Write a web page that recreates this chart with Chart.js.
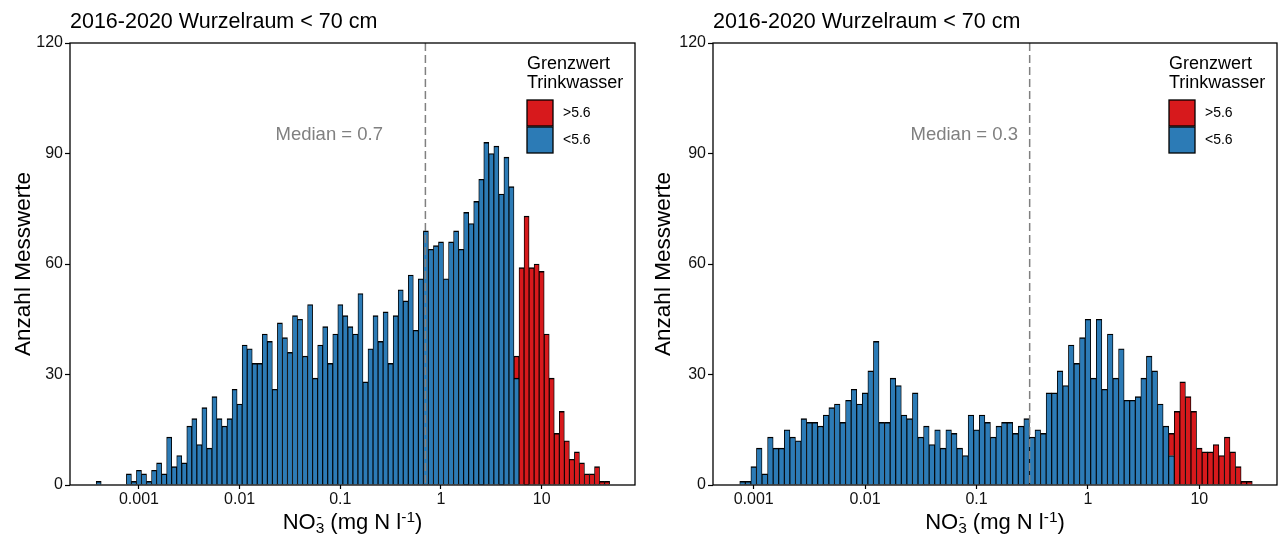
<!DOCTYPE html>
<html>
<head>
<meta charset="utf-8">
<script src="https://cdn.jsdelivr.net/npm/chart.js@4/dist/chart.umd.min.js"></script>
<style>
body { margin: 0; background: #fff; }
#left { position: absolute; left: 0; top: 0; width: 640px; height: 542px; }
#right { position: absolute; left: 640px; top: 0; width: 639px; height: 542px; }
</style>
</head>
<body>
<div id="left"><canvas id="leftChart"></canvas></div>
<div id="right"><canvas id="rightChart"></canvas></div>
<script>
// bins are 0.05 wide in log10(mg N/l), values are bin centres
let binWidth = 0.05
let xTicks = [-3, -2, -1, 0, 1]
let xTickLabels = ['0.001', '0.01', '0.1', '1', '10']
let legendTitle = ['Grenzwert', 'Trinkwasser']
let titleText = '2016-2020 Wurzelraum < 70 cm'
let medianLabelAt = [-1.11, 95]

let leftBlueStart = -3.40
let leftBlue = [1, 0, 0, 0, 0, 0, 3, 1, 4, 3, 1, 4, 6, 3, 13, 5, 8, 6, 16, 18, 11, 21, 10, 24,
	18, 16, 18, 26, 22, 38, 37, 33, 33, 41, 39, 26, 44, 40, 36, 46, 45, 35, 49, 29, 38, 43, 33, 41,
	49, 46, 43, 41, 52, 28, 37, 46, 39, 47, 33, 46, 53, 50, 57, 42, 56, 69, 64, 65, 66, 56, 66, 69,
	64, 74, 71, 77, 83, 93, 90, 92, 79, 89, 81, 29]
let leftRedStart = 0.75
let leftRed = [6, 59, 73, 59, 60, 58, 41, 29, 14, 20, 12, 7, 9, 6, 3, 3, 5, 1, 1]
let leftMedian = 0.7

let rightBlueStart = -3.10
let rightBlue = [1, 1, 5, 10, 3, 13, 10, 10, 15, 13, 12, 18, 17, 17, 16, 19, 21, 22, 17, 23, 26, 22,
	25, 31, 39, 17, 17, 29, 27, 19, 18, 25, 13, 16, 11, 15, 10, 15, 14, 10, 8, 19, 15, 19, 17, 13, 16,
	17, 17, 14, 16, 18, 13, 15, 14, 25, 25, 31, 27, 38, 33, 40, 45, 29, 45, 26, 41, 29, 37, 23, 23,
	24, 29, 35, 31, 22, 16, 8]
let rightRedStart = 0.75
let rightRed = [6, 20, 28, 24, 20, 10, 9, 9, 11, 8, 13, 9, 5, 1, 1]
let rightMedian = 0.3

let family = "'Liberation Sans', Arial, sans-serif"
Chart.defaults.font.family = family
Chart.defaults.color = '#000'

let blueColor = '#2C7BB6'
let redColor = '#D7191C'
let grey = '#808080'

function bins(start, counts) {
	return counts.map((c, i) => ({x: Math.round((start + i * binWidth) * 100) / 100, y: c}))
}

let decor = {
	id: 'decor',
	afterDatasetsDraw(chart, args, opts) {
		let ctx = chart.ctx
		let a = chart.chartArea
		let xs = chart.scales.x
		let ys = chart.scales.y
		ctx.save()

		// median line
		let mx = xs.getPixelForValue(Math.log10(opts.median))
		ctx.strokeStyle = grey
		ctx.lineWidth = 1.5
		ctx.setLineDash([8, 4])
		ctx.beginPath()
		ctx.moveTo(mx, a.top)
		ctx.lineTo(mx, a.bottom)
		ctx.stroke()
		ctx.setLineDash([])

		// panel border
		ctx.strokeStyle = '#000'
		ctx.lineWidth = 1.3
		ctx.strokeRect(a.left, a.top, a.right - a.left, a.bottom - a.top)

		ctx.fillStyle = grey
		ctx.font = '18.5px ' + family
		ctx.textAlign = 'center'
		ctx.textBaseline = 'middle'
		ctx.fillText('Median = ' + opts.median, xs.getPixelForValue(medianLabelAt[0]), ys.getPixelForValue(medianLabelAt[1]))

		// legend
		let lx = a.right - 108
		ctx.fillStyle = '#000'
		ctx.textAlign = 'left'
		ctx.font = '18px ' + family
		legendTitle.forEach((t, i) => ctx.fillText(t, lx, a.top + 21 + i * 19.5))
		let items = chart.data.datasets.slice().reverse()
		items.forEach((ds, i) => {
			let y = a.top + 57 + i * 27
			ctx.fillStyle = ds.backgroundColor
			ctx.fillRect(lx, y, 26, 26)
			ctx.strokeStyle = '#000'
			ctx.lineWidth = 1.3
			ctx.strokeRect(lx, y, 26, 26)
			ctx.fillStyle = '#000'
			ctx.font = '14px ' + family
			ctx.fillText(ds.label, lx + 36, y + 13)
		})

		// x axis title: NO3- (mg N l-1)
		let big = '22px ' + family
		let small = '15.5px ' + family
		ctx.textBaseline = 'alphabetic'
		ctx.font = big
		let w1 = ctx.measureText('NO').width
		let w3 = ctx.measureText(' (mg N l').width
		let w5 = ctx.measureText(')').width
		ctx.font = small
		let w2 = ctx.measureText('3').width
		let w4 = ctx.measureText('-1').width
		let x0 = (a.left + a.right) / 2 - (w1 + w2 + w3 + w4 + w5) / 2
		let base = 529
		ctx.font = big
		ctx.fillText('NO', x0, base)
		ctx.fillText(' (mg N l', x0 + w1 + w2, base)
		ctx.fillText(')', x0 + w1 + w2 + w3 + w4, base)
		ctx.font = small
		ctx.fillText('3', x0 + w1, base + 4)
		ctx.fillText('-', x0 + w1 + 1, base - 7)
		ctx.fillText('-1', x0 + w1 + w2 + w3, base - 7)
		ctx.restore()
	}
}

function makeChart(id, blue, blueStart, red, redStart, median, xMin, xMax, yWidth, padRight) {
	return new Chart(document.getElementById(id), {
		'type': 'bar',
		'data': {
			'datasets': [{
				'label': '<5.6',
				'data': bins(blueStart, blue),
				'backgroundColor': blueColor,
			}, {
				'label': '>5.6',
				'data': bins(redStart, red),
				'backgroundColor': redColor,
			}]
		},
		'options': {
			'responsive': true,
			'maintainAspectRatio': false,
			'animation': false,
			'events': [],
			'layout': {'padding': {'left': 0, 'right': padRight, 'top': 0, 'bottom': 0}},
			'datasets': {
				'bar': {
					'borderColor': '#000',
					'borderWidth': {'top': 1.4, 'left': 0.9, 'right': 0.9, 'bottom': 0},
					'barPercentage': 1,
					'categoryPercentage': 1,
				}
			},
			'scales': {
				'x': {
					'type': 'linear',
					'stacked': true,
					'offset': false,
					'min': xMin,
					'max': xMax,
					'afterBuildTicks': s => { s.ticks = xTicks.map(v => ({value: v})) },
					'afterFit': s => { s.height = 57 },
					'grid': {'offset': false, 'drawOnChartArea': false, 'tickLength': 4, 'tickColor': '#000', 'tickWidth': 1.2},
					'border': {'display': false},
					'ticks': {
						'autoSkip': false,
						'maxRotation': 0,
						'padding': 1,
						'color': '#111',
						'font': {'size': 16},
						'callback': v => xTickLabels[xTicks.indexOf(v)]
					}
				},
				'y': {
					'stacked': true,
					'min': 0,
					'max': 120,
					'afterFit': s => { s.width = yWidth },
					'grid': {'drawOnChartArea': false, 'tickLength': 5, 'tickColor': '#000', 'tickWidth': 1.2},
					'border': {'display': false},
					'ticks': {'stepSize': 30, 'padding': 2, 'color': '#111', 'font': {'size': 16}},
					'title': {
						'display': true,
						'text': 'Anzahl Messwerte',
						'font': {'size': 22.5},
						'padding': {'top': 10, 'bottom': 0}
					}
				}
			},
			'plugins': {
				'legend': {'display': false},
				'tooltip': {'enabled': false},
				'title': {
					'display': true,
					'text': titleText,
					'align': 'start',
					'fullSize': false,
					'color': '#000',
					'font': {'size': 21.5, 'weight': 'normal'},
					'padding': {'top': 9, 'bottom': 8.2}
				},
				'decor': {'median': median}
			}
		},
		'plugins': [decor]
	})
}

makeChart('leftChart', leftBlue, leftBlueStart, leftRed, leftRedStart, leftMedian, -3.685, 1.927, 70, 5)
makeChart('rightChart', rightBlue, rightBlueStart, rightRed, rightRedStart, rightMedian, -3.365, 1.697, 73, 2)
</script>
</body>
</html>
